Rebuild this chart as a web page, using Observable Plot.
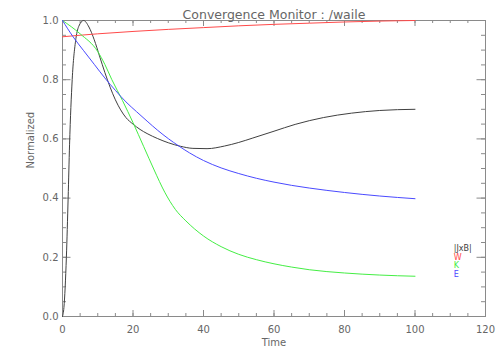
<!DOCTYPE html>
<html>
<head>
<meta charset="utf-8">
<script src="https://cdn.jsdelivr.net/npm/d3@7"></script>
<script src="https://cdn.jsdelivr.net/npm/@observablehq/plot@0.6"></script>
<style>
  html, body { margin: 0; padding: 0; background: #fff; }
  #chart { width: 504px; height: 360px; }
</style>
</head>
<body>
<div id="chart"></div>
<script>
// ---- data ----
const title = "Convergence Monitor : /waile";
const xLabel = "Time";
const yLabel = "Normalized";

const xMajorTicks = [0, 20, 40, 60, 80, 100, 120];
const yMajorTicks = [0.0, 0.2, 0.4, 0.6, 0.8, 1.0];

const seriesNames = ["|JxB|", "W", "K", "E"];
const seriesColors = ["#404040", "#ff4a4a", "#44ee44", "#4a4aff"];

const jxbTime = [0, 0.4, 1.1, 1.6, 2.0, 2.75, 3.7, 4.6, 6, 7.5, 9, 10.5, 12, 13.5, 15, 16.5, 18, 20, 22, 24, 27, 30, 33.5, 37, 41, 46, 50, 54, 60, 66, 74, 82, 90, 100];
const jxbValue = [0, 0.03, 0.2, 0.4, 0.58, 0.8, 0.93, 0.98, 1.0, 0.978, 0.935, 0.88, 0.825, 0.775, 0.732, 0.698, 0.672, 0.650, 0.632, 0.618, 0.601, 0.587, 0.575, 0.568, 0.567, 0.576, 0.588, 0.603, 0.626, 0.649, 0.672, 0.687, 0.696, 0.700];

const wTime = [0, 10, 20, 30, 40, 50, 60, 70, 80, 90, 100];
const wValue = [0.945, 0.955, 0.963, 0.970, 0.976, 0.982, 0.987, 0.991, 0.995, 0.998, 1.0];

const kTime = [0, 5, 10, 12, 14, 17, 20, 23, 26, 29, 32, 35, 40, 45, 50, 55, 60, 65, 70, 80, 90, 100];
const kValue = [1.0, 0.955, 0.895, 0.852, 0.80, 0.73, 0.655, 0.575, 0.495, 0.42, 0.362, 0.323, 0.272, 0.236, 0.210, 0.192, 0.178, 0.167, 0.158, 0.147, 0.140, 0.136];

const eTime = [0, 3, 6, 9, 12, 15, 18, 21, 24, 27, 30, 33, 36, 40, 45, 50, 55, 60, 65, 70, 80, 90, 100];
const eValue = [1.0, 0.945, 0.898, 0.852, 0.806, 0.764, 0.725, 0.692, 0.660, 0.629, 0.601, 0.576, 0.553, 0.527, 0.502, 0.483, 0.467, 0.454, 0.443, 0.434, 0.419, 0.407, 0.398];

// ---- build table ----
const seriesTimes = [jxbTime, wTime, kTime, eTime];
const seriesValues = [jxbValue, wValue, kValue, eValue];
const rows = [];
seriesNames.forEach((name, i) => {
  seriesTimes[i].forEach((t, j) => rows.push({series: name, t, v: seriesValues[i][j]}));
});

// ---- layout ----
const W = 504, H = 360;
const mL = 62, mR = 19, mT = 20, mB = 44;
const fw = W - mL - mR, fh = H - mT - mB;
const axisGray = "#8a8a8a";
const textGray = "#666666";
const font = "DejaVu Sans, sans-serif";

const xMinor = d3.range(0, 121, 5);
const yMinor = d3.range(0, 21).map(i => i / 20);

const legendRows = seriesNames.map((name, i) => ({name, color: seriesColors[i], i}));

const chart = Plot.plot({
  width: W,
  height: H,
  marginLeft: mL,
  marginRight: mR,
  marginTop: mT,
  marginBottom: mB,
  style: {fontFamily: font, background: "#fff", color: textGray},
  x: {domain: [0, 120], axis: null},
  y: {domain: [0, 1], axis: null},
  marks: [
    Plot.frame({stroke: axisGray}),
    // x ticks bottom & top (inward)
    Plot.tickX(xMinor, {x: d => d, insetTop: fh - 3, stroke: axisGray}),
    Plot.tickX(xMinor, {x: d => d, insetBottom: fh - 3, stroke: axisGray}),
    Plot.tickX(xMajorTicks, {x: d => d, insetTop: fh - 6, stroke: axisGray}),
    Plot.tickX(xMajorTicks, {x: d => d, insetBottom: fh - 6, stroke: axisGray}),
    // y ticks left & right (inward)
    Plot.tickY(yMinor, {y: d => d, insetRight: fw - 4, stroke: axisGray}),
    Plot.tickY(yMinor, {y: d => d, insetLeft: fw - 4, stroke: axisGray}),
    Plot.tickY(yMajorTicks, {y: d => d, insetRight: fw - 8.5, stroke: axisGray}),
    Plot.tickY(yMajorTicks, {y: d => d, insetLeft: fw - 8.5, stroke: axisGray}),
    // tick labels
    Plot.text(xMajorTicks, {x: d => d, frameAnchor: "bottom", dy: 16, text: d => String(d), fontSize: 10, fill: textGray}),
    Plot.text(yMajorTicks, {y: d => d, frameAnchor: "left", dx: -4, textAnchor: "end", text: d => d.toFixed(1), fontSize: 10, fill: textGray}),
    // axis titles
    Plot.text([xLabel], {frameAnchor: "bottom", dy: 29, text: d => d, fontSize: 10, fill: textGray}),
    Plot.text([yLabel], {frameAnchor: "left", dx: -32, rotate: -90, text: d => d, fontSize: 10, fill: textGray}),
    Plot.text([title], {frameAnchor: "top", dy: -10, text: d => d, fontSize: 12.5, fill: textGray}),
    // series lines
    Plot.line(rows, {
      x: "t", y: "v", z: "series",
      stroke: d => seriesColors[seriesNames.indexOf(d.series)],
      strokeWidth: 1,
      curve: "monotone-x"
    }),
    // legend
    Plot.text(legendRows, {
      x: 111, y: d => 0.23 - d.i * 0.0295,
      text: "name", fill: "color",
      textAnchor: "start", fontSize: 8
    })
  ]
});

document.getElementById("chart").appendChild(chart);
</script>
</body>
</html>
